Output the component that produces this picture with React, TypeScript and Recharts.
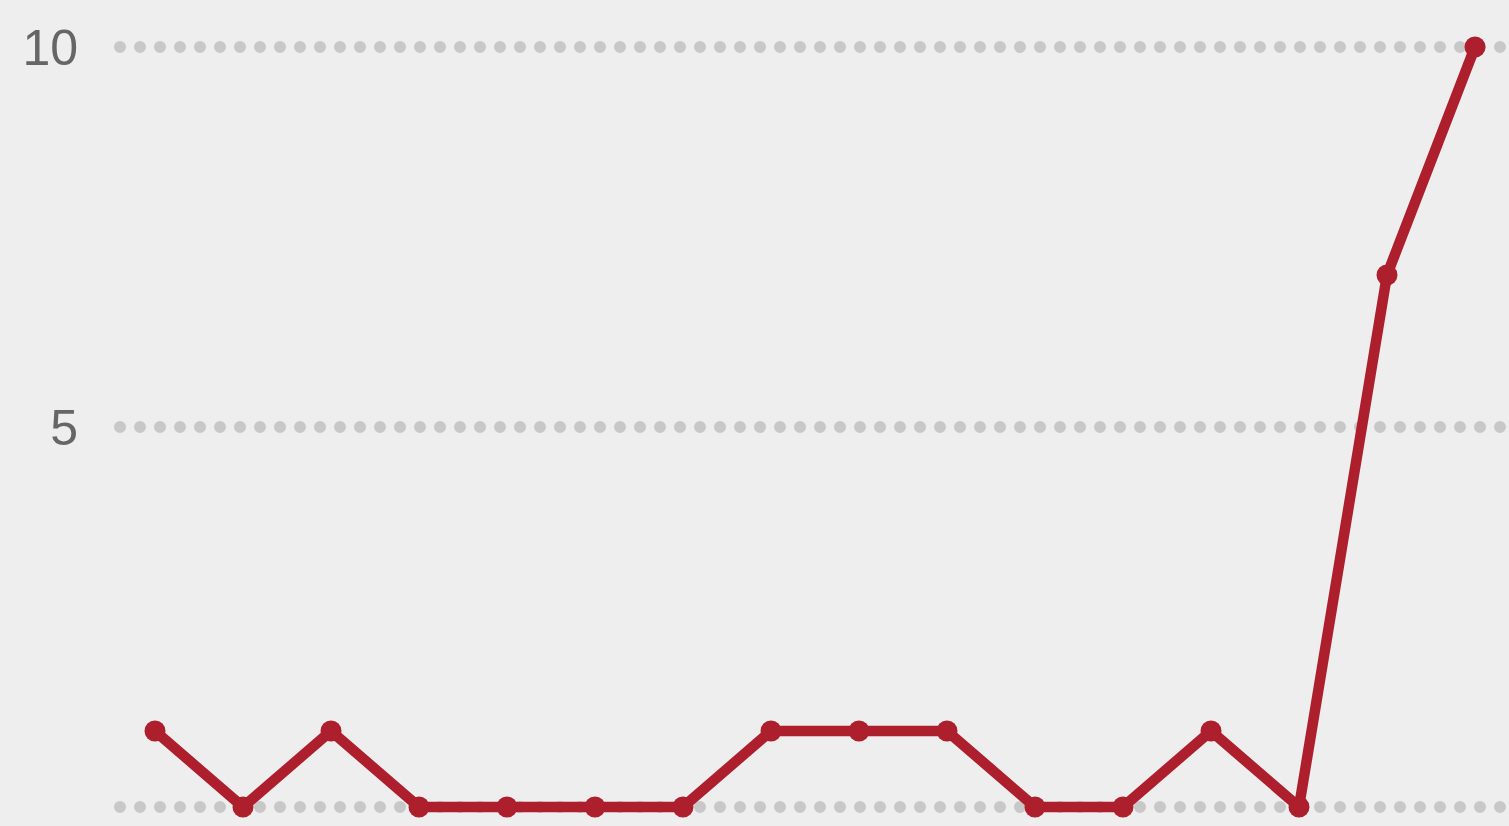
import React from 'react';
import { LineChart, Line, XAxis, YAxis, CartesianGrid } from 'recharts';

const periods = ['1', '2', '3', '4', '5', '6', '7', '8', '9', '10', '11', '12', '13', '14', '15', '16'];
const counts = [1, 0, 1, 0, 0, 0, 0, 1, 1, 1, 0, 0, 1, 0, 7, 10];
const yTicks = [0, 5, 10];

const LINE_COLOR = '#ad1f2d';

const data = periods.map((p, i) => ({ period: p, count: counts[i] }));

const App: React.FC = () => {
  return (
    <div style={{ position: 'absolute', top: 0, left: 0, width: 1509, height: 826, background: '#eeeeee' }}>
      <LineChart width={1509} height={826} data={data} margin={{ top: 47, right: 0, bottom: 19, left: 0 }}>
        <CartesianGrid
          vertical={false}
          stroke="#c8c8c8"
          strokeWidth={12}
          strokeDasharray="0 20"
          strokeLinecap="round"
        />
        <XAxis dataKey="period" hide padding={{ left: 35, right: 34 }} />
        <YAxis
          width={120}
          domain={[0, 10]}
          ticks={yTicks}
          axisLine={false}
          tickLine={false}
          tickSize={0}
          tickMargin={42}
          tick={{ fill: '#666666', fontSize: 50, fontFamily: 'Liberation Sans, Arial, sans-serif' }}
        />
        <Line
          type="linear"
          dataKey="count"
          stroke={LINE_COLOR}
          strokeWidth={10.5}
          dot={{ r: 10.5, fill: LINE_COLOR, stroke: 'none' }}
          activeDot={false}
          isAnimationActive={false}
        />
      </LineChart>
    </div>
  );
};

export default App;
